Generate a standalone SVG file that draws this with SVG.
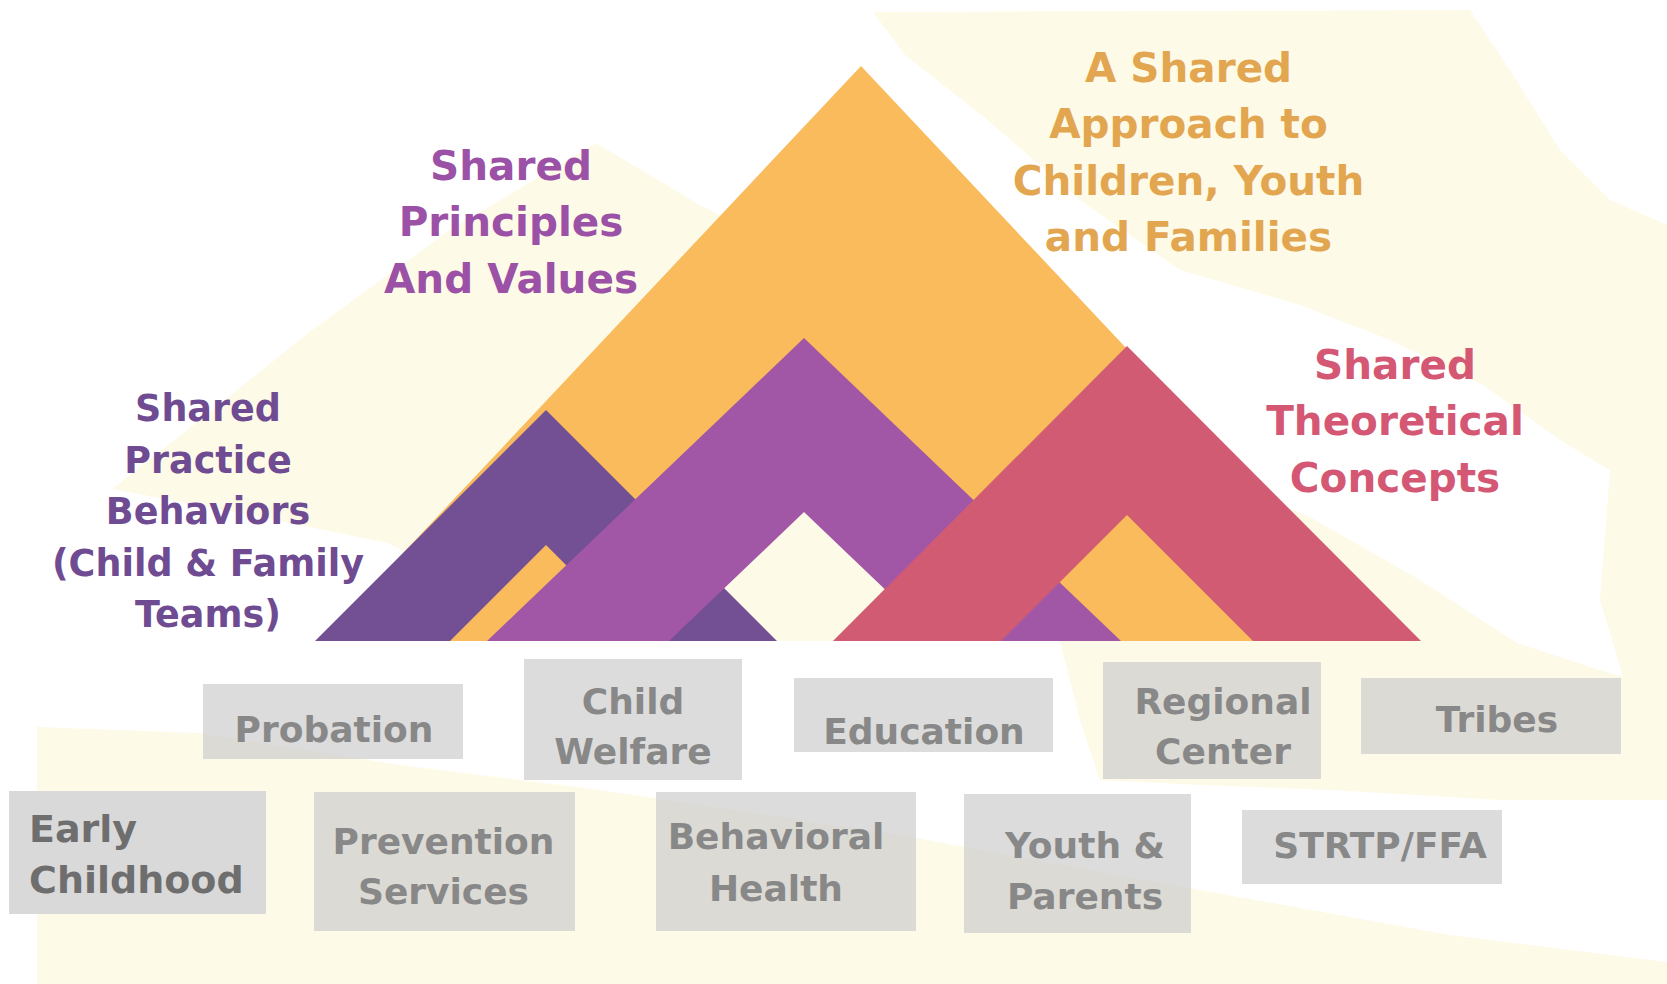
<svg xmlns="http://www.w3.org/2000/svg" width="1667" height="984" viewBox="0 0 1667 984">
<style>
.cream{fill:#fefae8}
.lbl{font-family:"DejaVu Sans","Liberation Sans",sans-serif;font-weight:bold;text-anchor:middle}
.big{font-size:40.5px}
.mid{font-size:36.5px}
.box{fill:#c9c9c9;fill-opacity:0.65}
.btxt{font-family:"DejaVu Sans","Liberation Sans",sans-serif;font-weight:bold;font-size:36px;fill:#888888;text-anchor:middle}
</style>
<rect width="1667" height="984" fill="#ffffff"/>
<g id="background">
<path class="cream" d="M596,143 L700,205 L760,235 L600,420 L420,560 L388,543 L250,515 L112,489 L200,420 L312,330 L450,230 Z"/>
<path class="cream" d="M873,12 L1470,10 L1510,70 L1560,150 L1610,200 L1667,225 L1667,505 L1560,440 L1483,385 L1390,340 L1300,305 L1180,270 L1080,200 L985,118 L905,55 Z"/>
<path class="cream" d="M1200,470 L1310,517 L1420,580 L1517,643 L1600,670 L1667,690 L1667,800 L1500,800 L1330,790 L1200,785 L1100,780 L1080,720 L1060,641 L1150,600 Z"/>
<path class="cream" d="M1610,470 L1667,480 L1667,720 L1630,700 L1600,600 Z"/>
<path class="cream" d="M37,727 L200,733 L400,765 L600,790 L900,835 L1200,890 L1450,935 L1667,962 L1667,984 L37,984 Z"/>
<path class="cream" d="M700,470 L920,470 L900,641 L700,641 Z"/>
</g>
<g id="mountain-approach">
<path fill="#f9bb5b" fill-rule="evenodd" d="M861,66 L1401.5,641 L320.5,641 Z M861,420 L1069,641 L653,641 Z"/>
</g>
<g id="mountain-practice">
<path fill="#735093" fill-rule="evenodd" d="M546,410 L777,641 L315,641 Z M546,545 L642,641 L450,641 Z"/>
</g>
<g id="mountain-principles">
<path fill="#a157a6" fill-rule="evenodd" d="M804,338 L1121,641 L487,641 Z M804,512 L939,641 L669,641 Z"/>
</g>
<g id="mountain-theory">
<path fill="#d25b74" fill-rule="evenodd" d="M1127,346 L1421,641 L833,641 Z M1127,515 L1253,641 L1001,641 Z"/>
</g>
<g id="label-approach" class="lbl big" fill="#e2a650">
<text x="1188.5" y="82">A Shared</text>
<text x="1188.5" y="138">Approach to</text>
<text x="1188.5" y="194.5">Children, Youth</text>
<text x="1188.5" y="250.5">and Families</text>
</g>
<g id="label-principles" class="lbl big" fill="#9b51a6">
<text x="511" y="179.5">Shared</text>
<text x="511" y="236">Principles</text>
<text x="511" y="293">And Values</text>
</g>
<g id="label-theory" class="lbl big" fill="#d45873">
<text x="1395" y="379">Shared</text>
<text x="1395" y="435">Theoretical</text>
<text x="1395" y="491.5">Concepts</text>
</g>
<g id="label-practice" class="lbl mid" fill="#6f4b92">
<text x="208" y="421">Shared</text>
<text x="208" y="472.5">Practice</text>
<text x="208" y="524">Behaviors</text>
<text x="208" y="575.5">(Child &amp; Family</text>
<text x="208" y="627">Teams)</text>
</g>
<g id="connectors"/>
<g id="node-probation">
<rect class="box" x="203" y="684" width="260" height="75"/>
<text class="btxt" x="334" y="741.5">Probation</text>
</g>
<g id="node-child-welfare">
<rect class="box" x="524" y="659" width="218" height="121"/>
<text class="btxt" x="633" y="714">Child</text>
<text class="btxt" x="633" y="764">Welfare</text>
</g>
<g id="node-education">
<rect class="box" x="794" y="678" width="259" height="74"/>
<text class="btxt" x="924" y="744">Education</text>
</g>
<g id="node-regional-center">
<rect class="box" x="1103" y="662" width="218" height="117"/>
<text class="btxt" x="1223" y="714">Regional</text>
<text class="btxt" x="1223" y="764">Center</text>
</g>
<g id="node-tribes">
<rect class="box" x="1361" y="678" width="260" height="76"/>
<text class="btxt" x="1497" y="732">Tribes</text>
</g>
<g id="node-early-childhood">
<rect x="9" y="791" width="257" height="123" fill="#d9d9d9"/>
<text x="29" y="842" font-family="DejaVu Sans, Liberation Sans, sans-serif" font-weight="bold" font-size="38" fill="#6e6e6e">Early</text>
<text x="29" y="893" font-family="DejaVu Sans, Liberation Sans, sans-serif" font-weight="bold" font-size="38" fill="#6e6e6e">Childhood</text>
</g>
<g id="node-prevention">
<rect class="box" x="314" y="792" width="261" height="139"/>
<text class="btxt" x="443.5" y="854">Prevention</text>
<text class="btxt" x="443.5" y="904">Services</text>
</g>
<g id="node-behavioral-health">
<rect class="box" x="656" y="792" width="260" height="139"/>
<text class="btxt" x="776" y="849">Behavioral</text>
<text class="btxt" x="776" y="901">Health</text>
</g>
<g id="node-youth-parents">
<rect class="box" x="964" y="794" width="227" height="139"/>
<text class="btxt" x="1085" y="858">Youth &amp;</text>
<text class="btxt" x="1085" y="909">Parents</text>
</g>
<g id="node-strtp">
<rect class="box" x="1242" y="810" width="260" height="74"/>
<text class="btxt" x="1380" y="857.5">STRTP/FFA</text>
</g>
</svg>
